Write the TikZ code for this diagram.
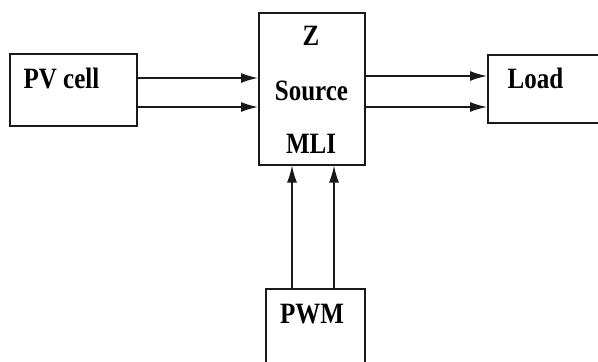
\documentclass[tikz,border=0pt]{standalone}
\usepackage{fontspec}
\setmainfont{Liberation Serif}
\usetikzlibrary{arrows.meta}
\tikzset{
  box/.style={draw=black!90, line width=1.5pt, inner sep=0pt, anchor=north west},
  lbl/.style={inner sep=0pt, anchor=base, font=\fontsize{25}{30}\selectfont\bfseries},
  arr/.style={draw=black!90, line width=1.5pt, -{Latex[length=17pt,width=10pt]}}
}
\newcommand{\stretchtxt}[1]{\scalebox{1}[1.18]{#1}}
\begin{document}
\begin{tikzpicture}[x=1pt,y=-1pt]
\clip (0,0) rectangle (598,362);
\fill[white] (0,0) rectangle (598,362);
% boxes
\node[box, minimum width=127pt, minimum height=72pt] (pv) at (9,53) {};
\node[box, minimum width=106pt, minimum height=152pt] (mli) at (258,12) {};
\node[box, minimum width=130pt, minimum height=68pt] (load) at (487,54) {};
\node[box, minimum width=99pt, minimum height=90pt] (pwm) at (265,288) {};
% labels
\node[lbl] (pvt) at (61.5,88) {\stretchtxt{PV cell}};
\node[lbl] (zt) at (311,45) {\stretchtxt{Z}};
\node[lbl] (st) at (311.5,100) {\stretchtxt{Source}};
\node[lbl] (mt) at (311,153) {\stretchtxt{MLI}};
\node[lbl] (lt) at (535.5,88) {\stretchtxt{Load}};
\node[lbl] (wt) at (312,323) {\stretchtxt{PWM}};
% connector levels
\coordinate (h1) at (0,78);
\coordinate (h2) at (0,107);
\coordinate (h3) at (0,76);
\coordinate (h4) at (0,107);
\coordinate (v1) at (292,0);
\coordinate (v2) at (334,0);
% connectors
\draw[arr] (pv.east |- h1) -- (mli.west |- h1);
\draw[arr] (pv.east |- h2) -- (mli.west |- h2);
\draw[arr] (mli.east |- h3) -- (load.west |- h3);
\draw[arr] (mli.east |- h4) -- (load.west |- h4);
\draw[arr] (pwm.north -| v1) -- (mli.south -| v1);
\draw[arr] (pwm.north -| v2) -- (mli.south -| v2);
\end{tikzpicture}
\end{document}
